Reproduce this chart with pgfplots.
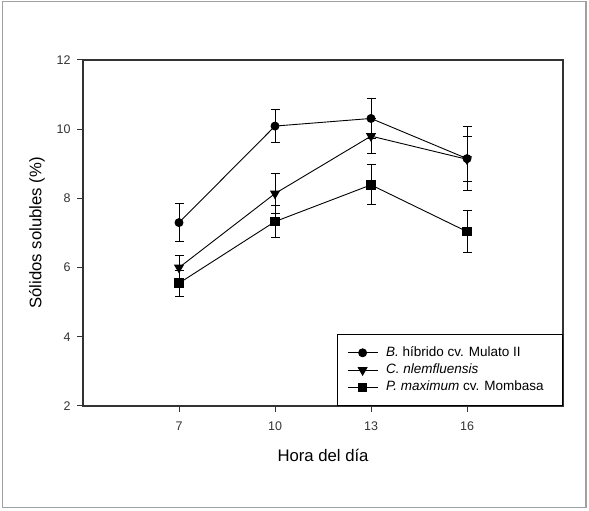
\documentclass[border=0pt]{standalone}
\usepackage{fontspec}
\setmainfont{Liberation Sans}
\usepackage{pgfplots}
\pgfplotsset{compat=1.18}
\definecolor{framegray}{HTML}{A0A0A0}
\definecolor{axgray}{HTML}{333333}

\begin{document}
\begin{tikzpicture}[x=1bp,y=1bp]
\draw[framegray, line width=1.2bp] (2.5,3.5) rectangle (586,509.5);
\path[use as bounding box] (0,0) rectangle (589,511);
\begin{axis}[
  at={(83bp,105bp)}, anchor=south west,
  width=480bp, height=346bp, scale only axis,
  xmin=4, xmax=19, ymin=2, ymax=12,
  xtick={7,10,13,16}, ytick={2,4,6,8,10,12},
  tick align=outside, tick pos=left,
  major tick length=6bp,
  axis line style={axgray, line width=1.1bp},
  tick style={axgray, line width=1bp},
  /pgf/number format/assume math mode=true,
  tick label style={font=\fontsize{12.5bp}{14bp}\selectfont, text=axgray},
  xticklabel style={yshift=-6bp},
  yticklabel style={xshift=-3bp},
  xlabel={Hora del día},
  ylabel={Sólidos solubles (\%)},
  label style={font=\fontsize{16.7bp}{19bp}\selectfont},
  xlabel style={at={(axis description cs:0.5,-0.1416)}, anchor=center},
  ylabel style={at={(axis description cs:-0.0958,0.5)}, anchor=center},
  legend style={at={(rel axis cs:1,0)}, anchor=south east, draw=black,
    line width=0.8bp, fill=white, font=\fontsize{13.5bp}{15bp}\selectfont,
    inner xsep=10bp, inner ysep=11.2bp, row sep=3.3bp, column sep=4bp,
    nodes={inner xsep=4bp, inner ysep=1bp, text height=9.5bp, text depth=2.5bp}},
  legend cell align=left,
  legend image code/.code={\draw[mark repeat=2,mark phase=2] plot coordinates {(0bp,0bp) (15bp,0bp) (30bp,0bp)};},
  error bars/error bar style={line width=1bp, black},
  error bars/error mark options={rotate=90, mark size=4.5bp, line width=1bp, black},
]
\addplot[black, line width=0.9bp, mark=*, mark size=4bp, mark options={fill=black},
  error bars/.cd, y dir=both, y explicit]
  coordinates {
  (7,7.30) +- (0,0.54)
  (10,10.09) +- (0,0.48)
  (13,10.31) +- (0,0.59)
  (16,9.15) +- (0,0.93)
  };
\addlegendentry{\textit{B.} híbrido cv. Mulato II}
\addplot[black, line width=0.9bp, mark=triangle*, mark size=5bp, mark options={rotate=180, fill=black},
  error bars/.cd, y dir=both, y explicit]
  coordinates {
  (7,6.00) +- (0,0.36)
  (10,8.14) +- (0,0.57)
  (13,9.80) +- (0,0.51)
  (16,9.13) +- (0,0.65)
  };
\addlegendentry{\textit{C. nlemfluensis}}
\addplot[black, line width=0.9bp, mark=square*, mark size=4.3bp, mark options={fill=black},
  error bars/.cd, y dir=both, y explicit]
  coordinates {
  (7,5.55) +- (0,0.38)
  (10,7.33) +- (0,0.47)
  (13,8.39) +- (0,0.58)
  (16,7.04) +- (0,0.60)
  };
\addlegendentry{\textit{P. maximum} cv. Mombasa\hspace*{5bp}}
\end{axis}
\end{tikzpicture}
\end{document}
